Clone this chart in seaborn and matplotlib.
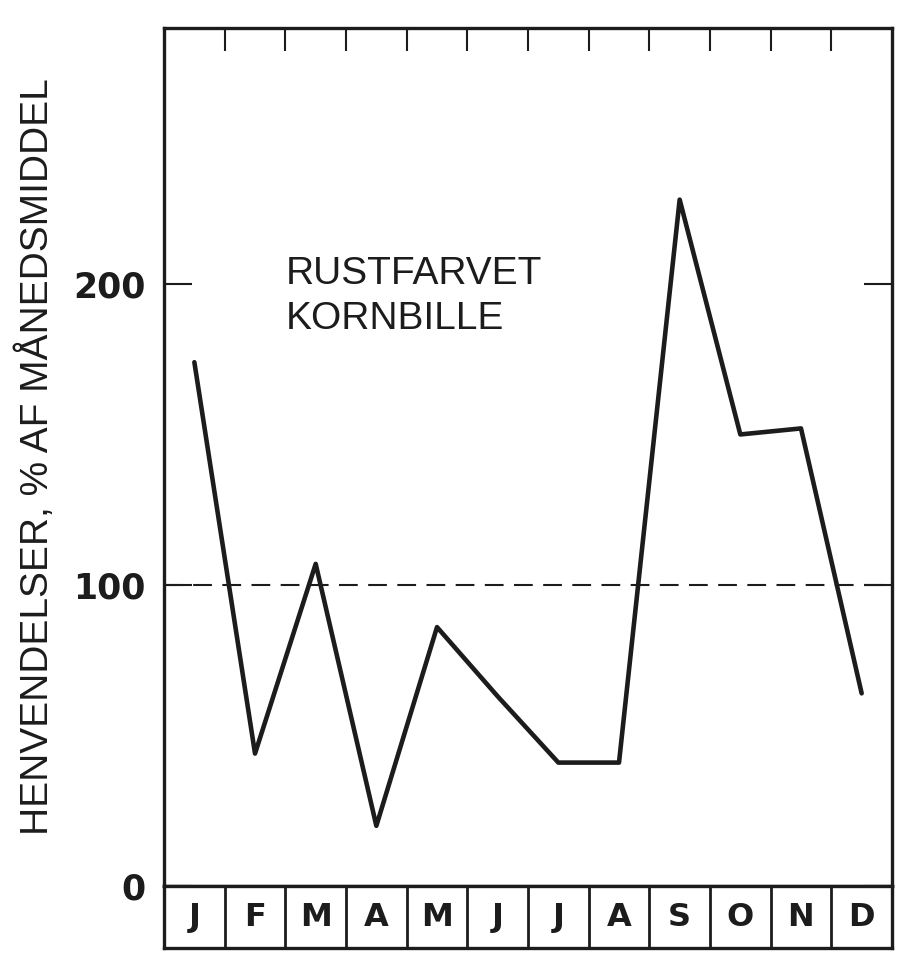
import numpy as np
import pandas as pd
import matplotlib.pyplot as plt
import seaborn as sns

# data
months = ['J', 'F', 'M', 'A', 'M', 'J', 'J', 'A', 'S', 'O', 'N', 'D']
values = [174, 44, 107, 20, 86, 63, 41, 41, 228, 150, 152, 64]
yticks = [0, 100, 200]
title_lines = ['RUSTFARVET', 'KORNBILLE']
ylabel = 'HENVENDELSER, % AF MÅNEDSMIDDEL'

sns.set_style('ticks')
plt.rcParams['font.family'] = ['Liberation Sans', 'DejaVu Sans']

ink = '#1c1c1c'
df = pd.DataFrame({'pos': np.arange(len(months)) + 0.5, 'value': values})

fig = plt.figure(figsize=(9.21, 9.8), dpi=100)
ax = fig.add_axes([0.1781, 0.0959, 0.7904, 0.8755])

sns.lineplot(data=df, x='pos', y='value', ax=ax, color=ink, linewidth=3.3)
ax.axhline(100, color=ink, lw=1.5, dashes=(9, 5))

ax.set_xlim(0, 12)
ax.set_ylim(0, 285)
ax.set_xlabel('')

# ticks: month boundaries on top, values on both sides, all pointing in
ax.set_xticks(range(1, 12))
ax.tick_params(axis='x', top=True, bottom=False, labelbottom=False,
               direction='in', length=16.5, width=1.5, color=ink)
ax.set_yticks(yticks)
ax.set_yticklabels([str(v) for v in yticks], fontweight='bold',
                   family=['DejaVu Sans'])
ax.tick_params(axis='y', left=True, right=True, direction='in',
               length=20, width=1.5, color=ink, labelsize=25, pad=13,
               labelcolor=ink)

ax.set_ylabel(ylabel, fontsize=28, color=ink)
ax.yaxis.set_label_coords(-0.148, 0.5)

for s in ax.spines.values():
    s.set_linewidth(2.4)
    s.set_color(ink)

# label inside the plot
ax.text(2.0, 200, title_lines[0], fontsize=28, color=ink, va='baseline')
ax.text(2.0, 185, title_lines[1], fontsize=28, color=ink, va='baseline')

# month strip under the plot
sx = fig.add_axes([0.1781, 1 - 948 / 980, 0.7904, 62 / 980])
sx.set_xlim(0, 12)
sx.set_ylim(0, 1)
sx.set_xticks([])
sx.set_yticks([])
for i in range(1, 12):
    sx.axvline(i, color=ink, lw=2)
for i, m in enumerate(months):
    sx.text(i + 0.5, 0.5, m, ha='center', va='center', family=['DejaVu Sans'],
            fontsize=23, fontweight='bold', color=ink)
for s in sx.spines.values():
    s.set_linewidth(2.4)
    s.set_color(ink)

fig.savefig('out.png', dpi=100)
